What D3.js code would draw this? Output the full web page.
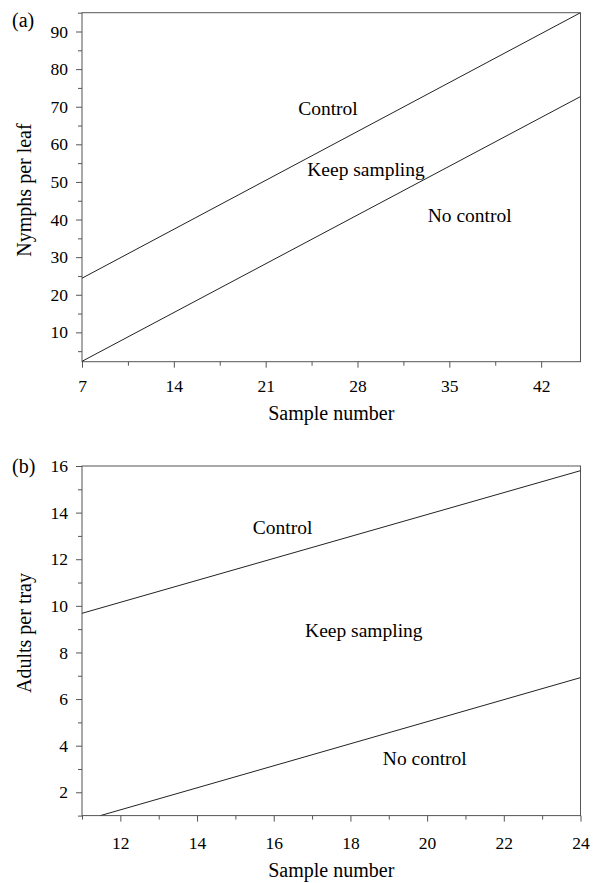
<!DOCTYPE html>
<html>
<head>
<meta charset="utf-8">
<script src="https://cdn.jsdelivr.net/npm/d3@7"></script>
<style>
  body { margin: 0; background: #fff; }
  svg { display: block; }
  svg text { font-family: "Liberation Serif", "Times New Roman", serif !important; fill: #000; }
</style>
</head>
<body>
<svg id="chart" width="594" height="883"></svg>
<script>
// ---- Panel (a) data ----
const aXDomain = [7, 45];
const aYDomain = [2.2, 95];
const aXTicks = [7, 14, 21, 28, 35, 42];
const aXMinor = [10.5, 17.5, 24.5, 31.5, 38.5];
const aYTicks = [10, 20, 30, 40, 50, 60, 70, 80, 90];
const aYMinor = [5, 15, 25, 35, 45, 55, 65, 75, 85, 95];
const aUpperLine = [[7, 24.4], [45, 95]];
const aLowerLine = [[7, 2.3], [45, 72.7]];
const aLabels = [
  { text: "Control", x: 25.75, y: 67.8 },
  { text: "Keep sampling", x: 28.65, y: 51.6 },
  { text: "No control", x: 36.55, y: 39.4 }
];

// ---- Panel (b) data ----
const bXDomain = [11, 24];
const bYDomain = [1, 16];
const bXTicks = [12, 14, 16, 18, 20, 22, 24];
const bXMinor = [11, 13, 15, 17, 19, 21, 23];
const bYTicks = [2, 4, 6, 8, 10, 12, 14, 16];
const bYMinor = [1, 3, 5, 7, 9, 11, 13, 15];
const bUpperLine = [[11, 9.68], [24, 15.8]];
const bLowerLine = [[11.48, 1], [24, 6.92]];
const bLabels = [
  { text: "Control", x: 16.23, y: 13.1 },
  { text: "Keep sampling", x: 18.35, y: 8.67 },
  { text: "No control", x: 19.94, y: 3.17 }
];

const svg = d3.select("#chart");
const LINE = "#222";
const AXIS = "#555";
const FONT = '"Liberation Serif", "Times New Roman", serif';

function panel(cfg) {
  const x = d3.scaleLinear().domain(cfg.xDomain).range([cfg.left, cfg.right]);
  const y = d3.scaleLinear().domain(cfg.yDomain).range([cfg.bottom, cfg.top]);
  const g = svg.append("g");

  // frame
  g.append("rect")
    .attr("x", cfg.left).attr("y", cfg.top)
    .attr("width", cfg.right - cfg.left).attr("height", cfg.bottom - cfg.top)
    .attr("fill", "none").attr("stroke", AXIS).attr("stroke-width", 1);

  // minor ticks
  const xm = g.append("g").attr("transform", `translate(0,${cfg.bottom})`)
    .call(d3.axisBottom(x).tickValues(cfg.xMinor).tickSize(4).tickFormat(""));
  const ym = g.append("g").attr("transform", `translate(${cfg.left},0)`)
    .call(d3.axisLeft(y).tickValues(cfg.yMinor).tickSize(4).tickFormat(""));
  [xm, ym].forEach(a => { a.select(".domain").remove(); a.selectAll("line").attr("stroke", AXIS); });

  // major ticks
  const xa = g.append("g").attr("transform", `translate(0,${cfg.bottom})`)
    .call(d3.axisBottom(x).tickValues(cfg.xTicks).tickSize(6).tickPadding(cfg.xPad).tickFormat(d3.format("d")));
  const ya = g.append("g").attr("transform", `translate(${cfg.left},0)`)
    .call(d3.axisLeft(y).tickValues(cfg.yTicks).tickSize(6).tickPadding(8).tickFormat(d3.format("d")));
  [xa, ya].forEach(a => {
    a.attr("font-family", FONT).attr("font-size", 17.5);
    a.select(".domain").remove();
    a.selectAll("line").attr("stroke", AXIS);
    a.selectAll("text").style("font-size", "17.5px").style("font-family", FONT).attr("fill", "#000");
  });

  // boundary lines
  const clipId = "clip" + cfg.id;
  g.append("clipPath").attr("id", clipId).append("rect")
    .attr("x", cfg.left).attr("y", cfg.top)
    .attr("width", cfg.right - cfg.left).attr("height", cfg.bottom - cfg.top);
  const line = d3.line().x(d => x(d[0])).y(d => y(d[1]));
  [cfg.upper, cfg.lower].forEach(pts => {
    g.append("path").datum(pts).attr("d", line)
      .attr("clip-path", `url(#${clipId})`)
      .attr("fill", "none").attr("stroke", LINE).attr("stroke-width", 1);
  });

  // region labels
  g.selectAll("text.region").data(cfg.labels).enter().append("text")
    .attr("class", "region")
    .attr("x", d => x(d.x)).attr("y", d => y(d.y))
    .attr("text-anchor", "middle").style("font-size", "19.5px")
    .text(d => d.text);

  // axis titles
  g.append("text")
    .attr("x", (cfg.left + cfg.right) / 2).attr("y", cfg.xTitleY)
    .attr("text-anchor", "middle").style("font-size", "20px")
    .text("Sample number");
  g.append("text")
    .attr("transform", `translate(31,${cfg.yTitleCenter}) rotate(-90)`)
    .attr("text-anchor", "middle").style("font-size", "20px")
    .text(cfg.yTitle);

  // panel tag
  g.append("text").attr("x", 12).attr("y", cfg.tagY)
    .style("font-size", "20px").text(cfg.tag);
}

panel({
  id: "a", left: 82, right: 580.5, top: 12.7, bottom: 361.7,
  xDomain: aXDomain, yDomain: aYDomain,
  xTicks: aXTicks, xMinor: aXMinor, yTicks: aYTicks, yMinor: aYMinor,
  upper: aUpperLine, lower: aLowerLine, labels: aLabels,
  xPad: 12, xTitleY: 420, yTitle: "Nymphs per leaf", yTitleCenter: 190,
  tag: "(a)", tagY: 27
});

panel({
  id: "b", left: 82, right: 580.5, top: 466, bottom: 815.6,
  xDomain: bXDomain, yDomain: bYDomain,
  xTicks: bXTicks, xMinor: bXMinor, yTicks: bYTicks, yMinor: bYMinor,
  upper: bUpperLine, lower: bLowerLine, labels: bLabels,
  xPad: 15, xTitleY: 877, yTitle: "Adults per tray", yTitleCenter: 633,
  tag: "(b)", tagY: 473
});
</script>
</body>
</html>
